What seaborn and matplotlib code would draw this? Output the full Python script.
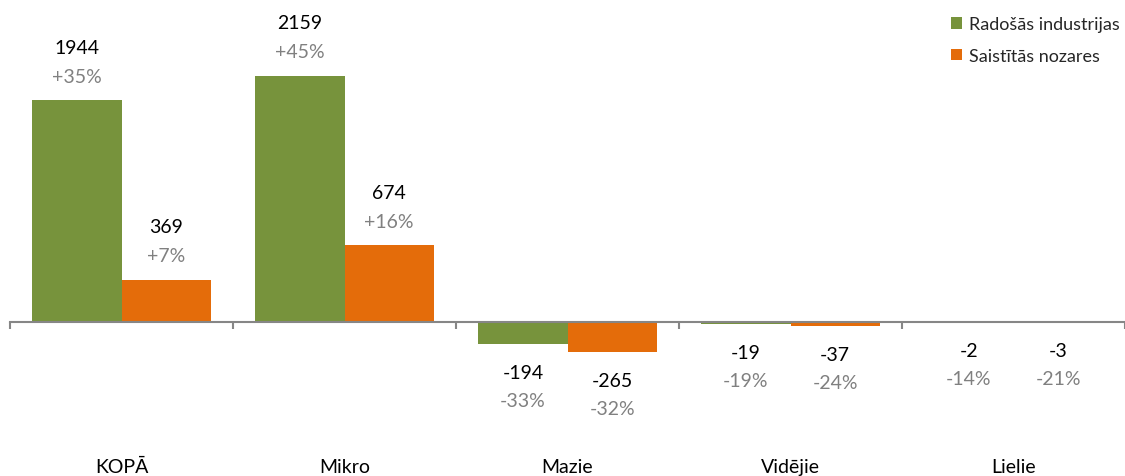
import matplotlib
matplotlib.use("Agg")
import matplotlib.pyplot as plt
import matplotlib.transforms as mtransforms
from matplotlib.patches import Patch
import seaborn as sns
import pandas as pd

categories = ["KOPĀ", "Mikro", "Mazie", "Vidējie", "Lielie"]
series_names = ["Radošās industrijas", "Saistītās nozares"]
creative_vals = [1944, 2159, -194, -19, -2]
related_vals = [369, 674, -265, -37, -3]
creative_pct = ["+35%", "+45%", "-33%", "-19%", "-14%"]
related_pct = ["+7%", "+16%", "-32%", "-24%", "-21%"]

colors = ["#77933C", "#E46C0A"]
FONT = ["Lato", "DejaVu Sans"]

rows = []
for c, v in zip(categories, creative_vals):
    rows.append({"cat": c, "series": series_names[0], "val": v})
for c, v in zip(categories, related_vals):
    rows.append({"cat": c, "series": series_names[1], "val": v})
df = pd.DataFrame(rows)

sns.set_theme(style="white")
plt.rcParams["font.family"] = FONT

fig = plt.figure(figsize=(11.25, 4.77), dpi=100)
ax = fig.add_axes([10 / 1125, 0, 1 - 10 / 1125, 1])

sns.barplot(data=df, x="cat", y="val", hue="series", order=categories,
            hue_order=series_names, palette=colors, width=0.8, saturation=1,
            ax=ax, legend=False, linewidth=0, errorbar=None)

ax.set_xlim(-0.5, -0.5 + 1115 / 224)
ax.set_ylim(-1351, 2833)
ax.set_xlabel("")
ax.set_ylabel("")
for s in ["left", "right", "top"]:
    ax.spines[s].set_visible(False)
ax.spines["bottom"].set_position(("data", 0))
ax.spines["bottom"].set_color("#868686")
ax.spines["bottom"].set_linewidth(1.5)
ax.set_yticks([])
ax.set_xticks(range(len(categories)))
ax.set_xticklabels([])
ax.tick_params(axis="x", which="major", length=0)
ax.set_xticks([i - 0.5 for i in range(len(categories) + 1)], minor=True)
ax.tick_params(axis="x", which="minor", length=5, width=1.5, color="#868686",
               direction="out", bottom=True)

# category labels at the bottom
trans = mtransforms.blended_transform_factory(ax.transData, ax.transAxes)
for i, c in enumerate(categories):
    ax.text(i, 4 / 477, c, transform=trans, ha="center", va="baseline",
            fontsize=14, color="black")

# value labels
offset = 0.2
for vals, pcts, dx in [(creative_vals, creative_pct, -offset),
                       (related_vals, related_pct, offset)]:
    for i, (v, p) in enumerate(zip(vals, pcts)):
        x = i + dx
        if v >= 0:
            ax.annotate(str(v), (x, v), xytext=(0, 53 * 0.72), textcoords="offset points",
                        ha="center", va="center", fontsize=14, color="black")
            ax.annotate(p, (x, v), xytext=(0, 24 * 0.72), textcoords="offset points",
                        ha="center", va="center", fontsize=14, color="#808080")
        else:
            ax.annotate(str(v), (x, v), xytext=(0, -28 * 0.72), textcoords="offset points",
                        ha="center", va="center", fontsize=14, color="black")
            ax.annotate(p, (x, v), xytext=(0, -56 * 0.72), textcoords="offset points",
                        ha="center", va="center", fontsize=14, color="#808080")

handles = [Patch(facecolor=colors[0], edgecolor="none"),
           Patch(facecolor=colors[1], edgecolor="none")]
fig.legend(handles, series_names, loc="upper left",
           bbox_to_anchor=(937 / 1125, 1 - 3 / 477), frameon=False,
           fontsize=13, handlelength=0.6, handleheight=0.6,
           handletextpad=0.35, labelspacing=0.85, borderpad=0.3)

fig.savefig("out.png", dpi=100)
